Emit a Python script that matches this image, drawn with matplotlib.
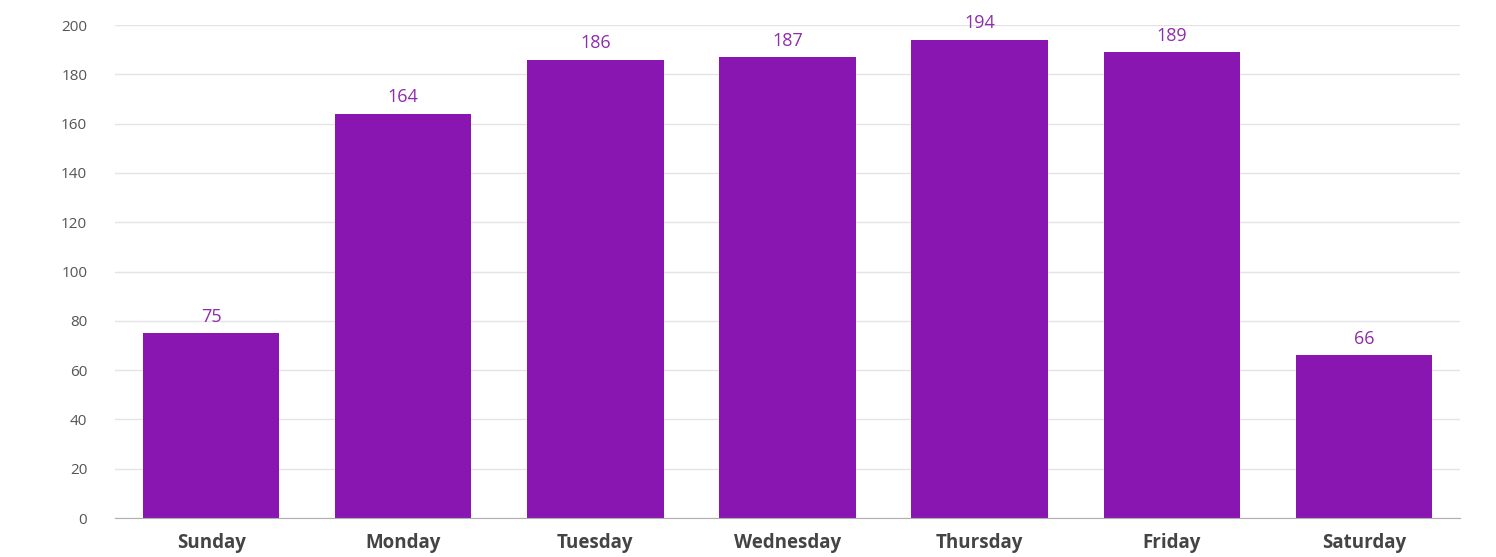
import matplotlib

matplotlib.use("Agg")
import matplotlib.pyplot as plt
import numpy as np

days = ["Sunday", "Monday", "Tuesday", "Wednesday", "Thursday", "Friday", "Saturday"]
counts = [75, 164, 186, 187, 194, 189, 66]
yticks = [0, 20, 40, 60, 80, 100, 120, 140, 160, 180, 200]

plt.rcParams["font.family"] = ["Open Sans", "DejaVu Sans"]

fig = plt.figure(figsize=(14.96, 5.57), dpi=100)
ax = fig.add_axes([0.0769, 0.070, 0.899, 0.885])

x = np.arange(len(days))
ax.bar(x, counts, width=0.71, color="#8a16b2", zorder=3)

for xi, v in zip(x, counts):
    ax.text(xi, v + 3, str(v), ha="center", va="bottom", fontsize=13,
            color="#8e2cad", clip_on=False, zorder=4)

ax.set_xlim(-0.5, len(days) - 0.5)
ax.set_ylim(0, 200)
ax.set_yticks(yticks)
ax.set_xticks(x)
ax.set_xticklabels(days, fontsize=13.5, fontweight="bold", color="#444444")
ax.tick_params(axis="y", labelsize=11, colors="#555555", length=0, pad=20)
ax.tick_params(axis="x", length=0, pad=11)
ax.grid(axis="y", color="#e4e4e4", linewidth=1, zorder=0)

for side in ["top", "right", "left"]:
    ax.spines[side].set_visible(False)
ax.spines["bottom"].set_color("#b0b0b0")
ax.spines["bottom"].set_zorder(5)

fig.savefig("out.png", dpi=100)
